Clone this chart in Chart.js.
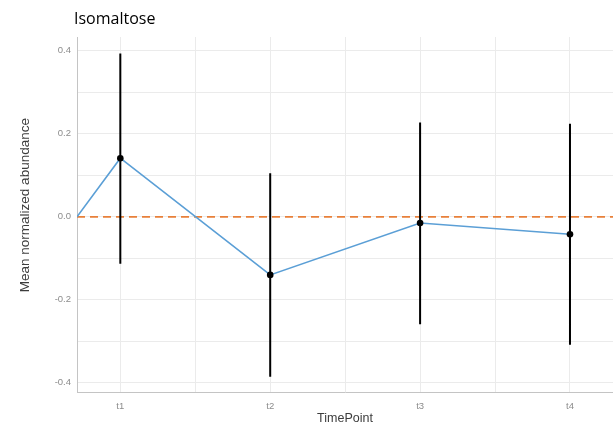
<!DOCTYPE html>
<html>
<head>
  <title>Isomaltose</title>
  <script src="https://cdn.jsdelivr.net/npm/chart.js"></script>
  <style>
    body { margin: 0; background: #fff; }
    #wrap { position: relative; width: 613px; height: 430px; }
    #title {
      position: absolute; left: 74px; top: 7px;
      font-family: 'Open Sans'; font-size: 16px; line-height: 22px; color: #000;
    }
  </style>
</head>
<body>
  <div id="wrap">
    <div id="title">Isomaltose</div>
    <canvas id="chart" width="613" height="430"></canvas>
  </div>

  <script>
    // data
    const timeLabels = ['t1', 't2', 't3', 't4'];
    const timeX = [1, 2, 3, 4];
    const meanValues = [0.141, -0.140, -0.015, -0.042];
    const upperValues = [0.393, 0.105, 0.227, 0.224];
    const lowerValues = [-0.113, -0.385, -0.259, -0.308];
    const startPoint = { x: 0.711, y: 0 };
    const yTickValues = [-0.4, -0.2, 0, 0.2, 0.4];
    const xRange = [0.711, 4.287];
    const yRange = [-0.422, 0.433];
    const refLine = 0;

    function withMidpoints(vals) {
      const out = [];
      for (let i = 0; i < vals.length; i++) {
        out.push(vals[i]);
        if (i < vals.length - 1) out.push((vals[i] + vals[i + 1]) / 2);
      }
      return out;
    }

    const lineData = [startPoint].concat(timeX.map((x, i) => ({ x: x, y: meanValues[i] })));

    const errData = [];
    timeX.forEach((x, i) => {
      errData.push({ x: x, y: lowerValues[i] });
      errData.push({ x: x, y: upperValues[i] });
      errData.push({ x: x, y: null });
    });

    const refData = [{ x: xRange[0], y: refLine }, { x: xRange[1], y: refLine }];

    const gridColor = '#ebebeb';
    const tickColor = '#8c8c8c';
    const titleColor = '#3c3c3c';

    new Chart(document.getElementById('chart'), {
      type: 'line',
      data: {
        datasets: [
          {
            data: lineData,
            borderColor: '#5b9fd6',
            borderWidth: 1.6,
            backgroundColor: '#000',
            pointBackgroundColor: '#000',
            pointBorderColor: '#000',
            pointRadius: ctx => ctx.dataIndex === 0 ? 0 : 3.3,
            pointBorderWidth: 0,
            tension: 0,
            order: 1
          },
          {
            data: errData,
            borderColor: '#000',
            borderWidth: 2,
            pointRadius: 0,
            spanGaps: false,
            order: 2
          },
          {
            data: refData,
            borderColor: '#e8803a',
            borderWidth: 1.8,
            borderDash: [8, 5],
            pointRadius: 0,
            order: 3
          }
        ]
      },
      options: {
        responsive: false,
        animation: false,
        devicePixelRatio: 1,
        layout: { autoPadding: false, padding: { top: 37, left: 0, right: 0, bottom: 0 } },
        plugins: {
          legend: { display: false },
          tooltip: { enabled: false }
        },
        scales: {
          x: {
            type: 'linear',
            min: xRange[0],
            max: xRange[1],
            afterBuildTicks: scale => {
              scale.ticks = withMidpoints(timeX).map(v => ({ value: v }));
            },
            afterFit: scale => {
              scale.height = 38;
              scale.paddingLeft = 0;
              scale.paddingRight = 0;
            },
            grid: { color: gridColor, drawTicks: false },
            border: { display: true, color: '#c4c4c4', width: 1 },
            ticks: {
              padding: 9,
              color: tickColor,
              font: { family: 'Liberation Sans', size: 9.5 },
              maxRotation: 0,
              autoSkip: false,
              callback: v => {
                const i = timeX.indexOf(v);
                return i >= 0 ? timeLabels[i] : '';
              }
            },
            title: {
              display: true,
              text: 'TimePoint',
              color: titleColor,
              font: { family: 'Liberation Sans', size: 12.5 },
              padding: { top: 0, bottom: 4 }
            }
          },
          y: {
            min: yRange[0],
            max: yRange[1],
            afterBuildTicks: scale => {
              scale.ticks = withMidpoints(yTickValues).map(v => ({ value: v }));
            },
            afterFit: scale => {
              scale.width = 77;
              scale.paddingTop = 0;
              scale.paddingBottom = 0;
            },
            grid: { color: gridColor, drawTicks: false },
            border: { display: true, color: '#c4c4c4', width: 1 },
            ticks: {
              padding: 6,
              color: tickColor,
              font: { family: 'Liberation Sans', size: 9.5 },
              autoSkip: false,
              callback: v => {
                const major = yTickValues.some(t => Math.abs(t - v) < 1e-9);
                return major ? v.toFixed(1) : '';
              }
            },
            title: {
              display: true,
              // leading spaces nudge the rotated label up to where the reference has it
              text: '     Mean normalized abundance',
              color: titleColor,
              font: { family: 'Liberation Sans', size: 13.5 },
              padding: { top: 17, bottom: 0 }
            }
          }
        }
      }
    });
  </script>
</body>
</html>
